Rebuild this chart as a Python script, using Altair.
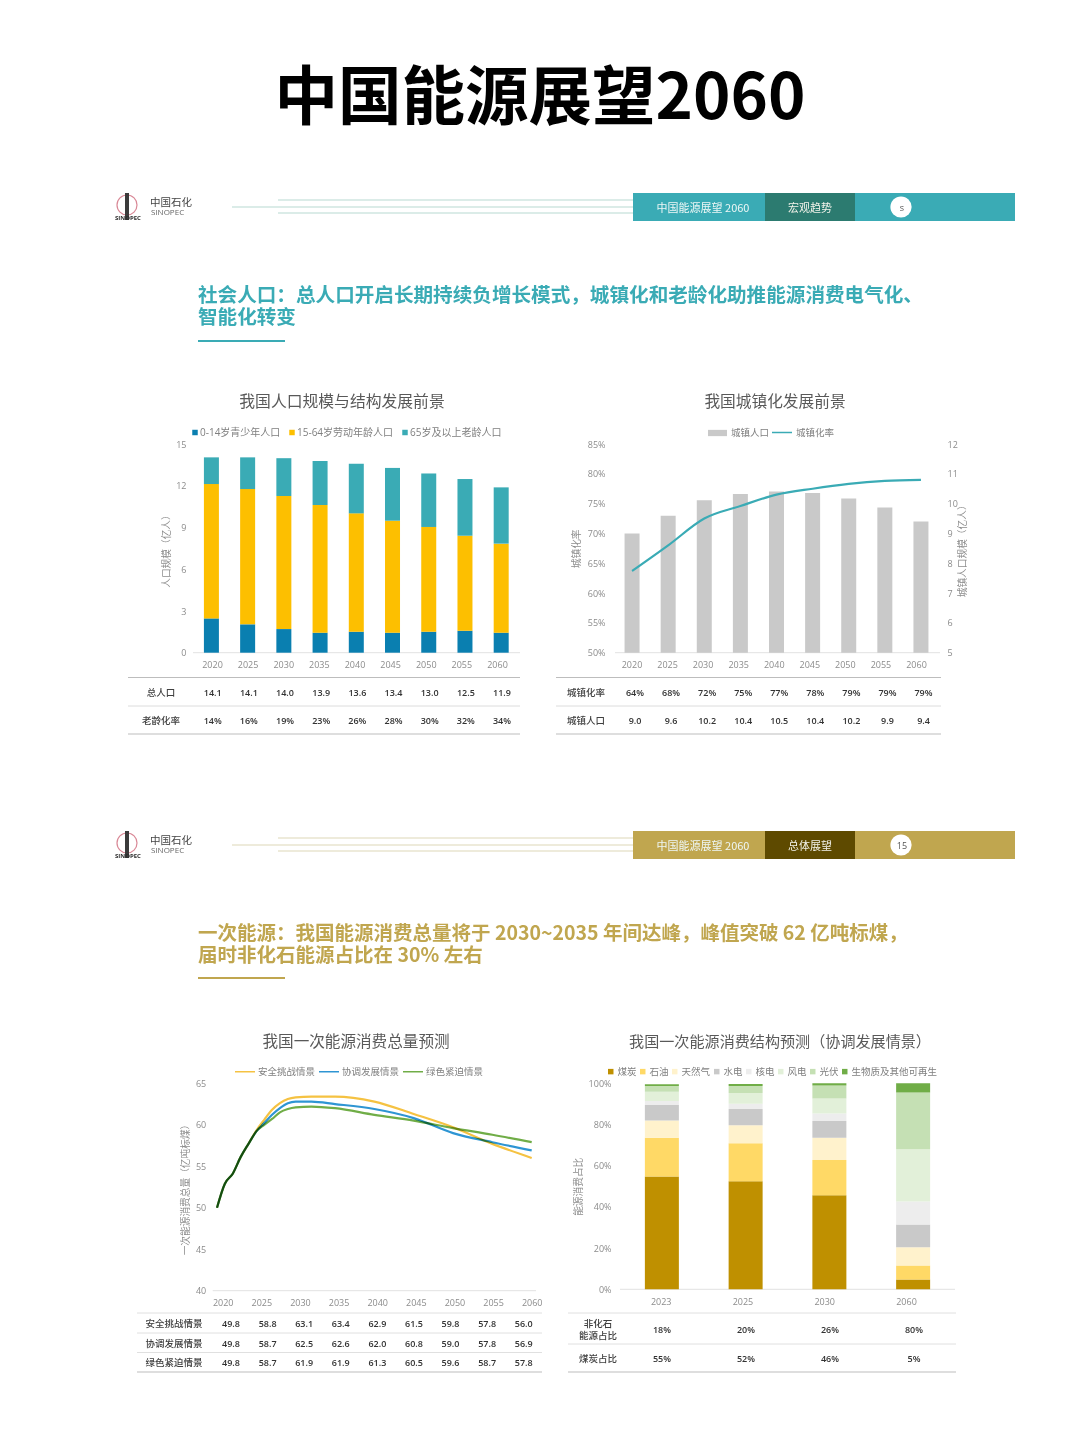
import altair as alt
import pandas as pd

# ---------- data ----------
YEARS = ["2020", "2025", "2030", "2035", "2040", "2045", "2050", "2055", "2060"]
POP_YOUNG = [2.47, 2.04, 1.70, 1.44, 1.51, 1.44, 1.51, 1.58, 1.44]
POP_WORK = [9.67, 9.74, 9.58, 9.19, 8.52, 8.06, 7.54, 6.84, 6.41]
POP_OLD = [1.92, 2.28, 2.72, 3.17, 3.57, 3.80, 3.85, 4.08, 4.05]
POP_NAMES = ["0-14岁青少年人口", "15-64岁劳动年龄人口", "65岁及以上老龄人口"]
POP_TOTAL = ["14.1", "14.1", "14.0", "13.9", "13.6", "13.4", "13.0", "12.5", "11.9"]
POP_AGING = ["14%", "16%", "19%", "23%", "26%", "28%", "30%", "32%", "34%"]

URB_POP = [9.0, 9.59, 10.11, 10.32, 10.41, 10.36, 10.17, 9.87, 9.4]
URB_BASE = [5, 5, 5, 5, 5, 5, 5, 5, 5]
URB_RATE = [63.7, 68.0, 72.5, 74.6, 76.5, 77.5, 78.3, 78.8, 79.0]
URB_RATE_T = ["64%", "68%", "72%", "75%", "77%", "78%", "79%", "79%", "79%"]
URB_POP_T = ["9.0", "9.6", "10.2", "10.4", "10.5", "10.4", "10.2", "9.9", "9.4"]

EN_YEARS = [2020, 2021, 2022, 2023, 2024, 2025, 2026, 2027, 2028, 2029, 2030, 2032, 2035, 2040, 2045, 2050, 2055, 2060]
EN_SAFE = [50.0, 52.9, 54.1, 56.1, 57.7, 59.3, 60.6, 61.8, 62.6, 63.1, 63.3, 63.4, 63.4, 62.8, 61.3, 59.7, 57.7, 56.0]
EN_COORD = [50.0, 52.9, 54.1, 56.1, 57.7, 59.2, 60.2, 61.2, 62.0, 62.6, 62.8, 62.8, 62.5, 61.9, 60.8, 59.0, 57.9, 56.9]
EN_GREEN = [50.0, 52.9, 54.1, 56.1, 57.7, 59.2, 60.0, 60.7, 61.5, 61.9, 62.1, 62.2, 62.0, 61.2, 60.5, 59.6, 58.8, 57.9]
EN_NAMES = ["安全挑战情景", "协调发展情景", "绿色紧迫情景"]
T_SAFE = ["49.8", "58.8", "63.1", "63.4", "62.9", "61.5", "59.8", "57.8", "56.0"]
T_COORD = ["49.8", "58.7", "62.5", "62.6", "62.0", "60.8", "59.0", "57.8", "56.9"]
T_GREEN = ["49.8", "58.7", "61.9", "61.9", "61.3", "60.5", "59.6", "58.7", "57.8"]

MIX_YEARS = ["2023", "2025", "2030", "2060"]
MIX_NAMES = ["煤炭", "石油", "天然气", "水电", "核电", "风电", "光伏", "生物质及其他可再生"]
MIX_COAL = [54.7, 52.4, 45.6, 4.7]
MIX_OIL = [18.9, 18.5, 17.2, 6.8]
MIX_GAS = [8.3, 8.7, 10.8, 8.9]
MIX_HYDRO = [7.6, 7.9, 8.1, 11.0]
MIX_NUC = [1.9, 2.6, 3.6, 11.2]
MIX_WIND = [4.5, 5.2, 7.3, 25.4]
MIX_SOLAR = [2.8, 3.4, 6.3, 27.5]
MIX_BIO = [0.8, 0.9, 1.1, 4.5]
MIX_NONFOSSIL = ["18%", "20%", "26%", "80%"]
MIX_COALSHARE = ["55%", "52%", "46%", "5%"]

TEAL = "#3aabb5"
GOLD = "#c0a64f"
GREY = "#8c8c8c"
FONT = "Open Sans, Noto Sans CJK SC"
CJK = "Noto Sans CJK SC"
ONE = alt.Data(values=[{"a": 0}])
PW, PH = 1064, 1424


def px(v):
    return v - 8


# ---------- helpers (all positions are given in page pixels) ----------
def T(text, x, y, size=10, color="#444444", weight="normal", align="center", font=CJK):
    content = text
    if "\n" in text:
        content = text.split("\n")
        y = y - (len(content) - 1) * (size + 2) / 2
    return alt.Chart(ONE).mark_text(text=content, fontSize=size, color=color, fontWeight=weight, align=align,
                                    baseline="middle", font=font, lineHeight=size + 2).encode(
        x=alt.value(px(x)), y=alt.value(px(y)))


def R(x0, y0, x1, y1, color):
    return alt.Chart(ONE).mark_rect(color=color).encode(
        x=alt.value(px(x0)), x2=alt.value(px(x1)), y=alt.value(px(y0)), y2=alt.value(px(y1)))


def H(x0, x1, y, color="#c8c8c8", w=1.0):
    return alt.Chart(ONE).mark_rule(color=color, strokeWidth=w).encode(
        x=alt.value(px(x0)), x2=alt.value(px(x1)), y=alt.value(px(y)))


def x_axis_layer(labels, x0, x1, ybase, pad=8):
    df = pd.DataFrame({"lab": labels})
    return alt.Chart(df).mark_rule(opacity=0).encode(
        x=alt.X("lab:N", sort=None,
                scale=alt.Scale(type="point", domain=labels, range=[px(x0), px(x1)], padding=0),
                axis=alt.Axis(title=None, orient="bottom", offset=-(PH - px(ybase)), domain=False, ticks=False,
                              grid=False, labelAngle=0, labelPadding=pad, labelColor=GREY, labelFontSize=9,
                              labelFont=FONT, labelOverlap=False, labelBound=False, labelFlush=False)))


def band_x(field, domain, x0, x1):
    return alt.X(field, sort=None, axis=None,
                 scale=alt.Scale(type="band", domain=domain, range=[px(x0), px(x1)], paddingInner=0, paddingOuter=0))


def table_layers(rownames, rows, cols, x0, x1, y0, y1, label_x, rules):
    recs = []
    for name, vals in zip(rownames, rows):
        for c, v in zip(cols, vals):
            recs.append({"row": name, "col": c, "v": v})
    text = alt.Chart(pd.DataFrame(recs)).mark_text(fontSize=9, color="#333333", fontWeight=600, font=FONT,
                                                   baseline="middle").encode(
        x=alt.X("col:N", sort=None, axis=None,
                scale=alt.Scale(type="point", domain=cols, range=[px(x0), px(x1)], padding=0)),
        y=alt.Y("row:N", sort=None, axis=None,
                scale=alt.Scale(type="point", domain=rownames, range=[px(y0), px(y1)], padding=0)),
        text="v:N")
    ys = [y0 + (y1 - y0) * i / max(len(rownames) - 1, 1) for i in range(len(rownames))]
    labels = [T(n, label_x, yy, 9.5, "#404040", 500, font=FONT) for n, yy in zip(rownames, ys)]
    return [text] + labels + rules


def legend(x, y, pad=6, sym="square", size=30, font=9.5, off=3, **kw):
    return alt.Legend(orient="none", legendX=px(x), legendY=px(y), direction="horizontal", title=None, symbolType=sym,
                      symbolSize=size, labelFontSize=font, labelColor="#7f7f7f", labelFont=FONT,
                      columnPadding=pad, labelOffset=off, rowPadding=0, padding=0, **kw)


def y_axis(title, vals, xpos, pad, tpad, pct=False, orient="left"):
    off = -px(xpos) if orient == "left" else -(PW - px(xpos))
    args = dict(title=title, orient=orient, offset=off, values=vals, domain=False, ticks=False, grid=False,
                labelColor=GREY, labelFontSize=9, labelFont=FONT, labelPadding=pad,
                titleColor=GREY, titleFontSize=9.7, titleFont=FONT, titleFontWeight="normal",
                titlePadding=tpad, titleAngle=270, labelOverlap=False, labelBound=False, labelFlush=False)
    if pct:
        args["labelExpr"] = "datum.value + '%'"
    return alt.Axis(**args)


def yscale(lo, hi, ybottom, ytop):
    return alt.Scale(domain=[lo, hi], range=[px(ybottom), px(ytop)], nice=False, zero=False)


# ---------- decoration ----------
def band(y0, y1, color, dark, linecol, sec, num):
    yc = (y0 + y1) / 2
    return [
        H(232, 633, yc, linecol, 1.5),
        H(278, 633, y0 + 7, linecol, 1.5),
        H(278, 633, y1 - 8, linecol, 1.5),
        R(633, y0, 1015, y1, color),
        R(765, y0, 855, y1, dark),
        T("中国能源展望 2060", 703, yc + 1.5, 11, "#eef7f6"),
        T(sec, 810, yc + 1.5, 11, "#f3f3ea"),
        alt.Chart(ONE).mark_circle(color="white", opacity=1, size=450).encode(
            x=alt.value(px(901)), y=alt.value(px(yc))),
        T(num, 902, yc + 0.5, 9, "#555555", 500, font=FONT),
        alt.Chart(ONE).mark_point(shape="circle", size=400, color="#c9566a", filled=False, strokeWidth=1.2).encode(
            x=alt.value(px(127)), y=alt.value(px(yc - 2))),
        R(125, y0, 129, y1 - 1, "#3b3b3b"),
        T("SINOPEC", 128, y1 - 3, 6, "#2b2b2b", "bold", font=FONT),
        T("中国石化", 150, y0 + 9.5, 10.5, "#444444", align="left"),
        T("SINOPEC", 151, y0 + 20, 8, "#666666", align="left", font=FONT),
    ]


decor = [T("中国能源展望2060", 540, 100, 63.5, "#000000", "bold")]
decor += band(193, 221, TEAL, "#2c7b70", "#cfe6e1", "宏观趋势", "s")
decor += [
    T("社会人口：总人口开启长期持续负增长模式，城镇化和老龄化助推能源消费电气化、", 198, 295.5, 19.6, TEAL, "bold", "left"),
    T("智能化转变", 198, 317.5, 19.6, TEAL, "bold", "left"),
    H(198, 285, 341, TEAL, 2),
    T("我国人口规模与结构发展前景", 342, 402, 15.8, "#595959"),
    T("我国城镇化发展前景", 775, 402, 15.7, "#595959"),
]
decor += band(831, 859, GOLD, "#5e4a00", "#e9e5cf", "总体展望", "15")
decor += [
    T("一次能源：我国能源消费总量将于 2030~2035 年间达峰，峰值突破 62 亿吨标煤，", 198, 933.5, 19.5, GOLD, "bold", "left"),
    T("届时非化石能源占比在 30% 左右", 198, 955.5, 19.5, GOLD, "bold", "left"),
    H(198, 285, 978, GOLD, 2),
    T("我国一次能源消费总量预测", 356, 1042, 15.6, "#595959"),
    T("我国一次能源消费结构预测（协调发展情景）", 780, 1042, 15.1, "#595959"),
]

# ---------- chart 1 : population ----------
pop = pd.DataFrame(
    [{"year": y, "series": POP_NAMES[i], "order": i, "v": s[j]}
     for i, s in enumerate([POP_YOUNG, POP_WORK, POP_OLD]) for j, y in enumerate(YEARS)])
bars1 = alt.Chart(pop).mark_bar(size=15).encode(
    x=band_x("year:N", YEARS, 193.3, 519.3),
    y=alt.Y("sum(v):Q", stack="zero", scale=yscale(0, 15, 652.7, 444.3),
            axis=y_axis("人口规模（亿人）", [0, 3, 6, 9, 12, 15], 193, 7, 4)),
    order=alt.Order("order:Q"),
    color=alt.Color("series:N", sort=None, scale=alt.Scale(domain=POP_NAMES, range=["#0a7fb0", "#fdbf00", TEAL]),
                    legend=legend(190, 427.5, pad=6, font=10, off=0)))
layers1 = [H(193, 520, 652.7, "#e2e2e2"), x_axis_layer(YEARS, 212, 497, 652.7), bars1] + table_layers(
    ["总人口", "老龄化率"], [POP_TOTAL, POP_AGING], YEARS, 212.7, 502, 693, 721, 161,
    [H(128, 520, 677.5, "#bdbdbd"), H(128, 520, 706, "#dcdcdc"), H(128, 520, 734, "#bdbdbd")])

# ---------- chart 2 : urbanisation ----------
urb = pd.DataFrame({"year": YEARS, "pop": URB_POP, "base": URB_BASE, "rate": URB_RATE,
                    "a": ["城镇人口"] * 9, "b": ["城镇化率"] * 9})
xb2 = band_x("year:N", YEARS, 614, 939)
bars2 = alt.Chart(urb).mark_bar(size=15).encode(
    x=xb2,
    y=alt.Y("pop:Q", scale=yscale(5, 12, 652.7, 444),
            axis=y_axis("城镇人口规模（亿人）", [5, 6, 7, 8, 9, 10, 11, 12], 940, 7, 10, orient="right")),
    y2=alt.Y2("base:Q"),
    color=alt.Color("a:N", scale=alt.Scale(domain=["城镇人口"], range=["#c9c9c9"]),
                    legend=legend(707, 422.5, sym="M-1,-0.33H1V0.33H-1Z", size=361)))
line2 = alt.Chart(urb).mark_line(strokeWidth=2.2, interpolate="monotone").encode(
    x=xb2,
    y=alt.Y("rate:Q", scale=yscale(50, 85, 652.7, 444),
            axis=y_axis("城镇化率", [50, 55, 60, 65, 70, 75, 80, 85], 615, 10, 6, pct=True)),
    color=alt.Color("b:N", scale=alt.Scale(domain=["城镇化率"], range=[TEAL]),
                    legend=legend(771, 421.5, sym="stroke", size=400)))
layers2 = [H(615, 940, 652.7, "#e2e2e2"), x_axis_layer(YEARS, 631.5, 916, 652.7), bars2, line2] + table_layers(
    ["城镇化率", "城镇人口"], [URB_RATE_T, URB_POP_T], YEARS, 635, 923.5, 693, 721, 586,
    [H(556, 941, 677.5, "#bdbdbd"), H(556, 941, 706, "#dcdcdc"), H(556, 941, 734, "#bdbdbd")])

# ---------- chart 3 : energy total ----------
en = pd.DataFrame(
    [{"year": y, "series": EN_NAMES[i], "order": i, "v": s[j]}
     for i, s in enumerate([EN_SAFE, EN_COORD, EN_GREEN]) for j, y in enumerate(EN_YEARS)])
lines3 = alt.Chart(en).mark_line(strokeWidth=2.2, interpolate="monotone", blend="multiply").encode(
    x=alt.X("year:Q", axis=None,
            scale=alt.Scale(domain=[2020, 2060], range=[px(217), px(531.7)], nice=False, zero=False)),
    y=alt.Y("v:Q", scale=yscale(40, 65, 1290.7, 1083.3),
            axis=y_axis("一次能源消费总量（亿吨标煤）", [40, 45, 50, 55, 60, 65], 212.7, 7, 5)),
    order=alt.Order("order:Q"),
    detail="series:N",
    color=alt.Color("series:N", sort=None, scale=alt.Scale(domain=EN_NAMES, range=["#f5c242", "#2e95d3", "#70ad47"]),
                    legend=legend(234, 1060.5, pad=0, sym="stroke", size=400, off=2)))
layers3 = [H(212.7, 536, 1290.7, "#e2e2e2"), x_axis_layer(YEARS, 222.7, 531.7, 1290.7), lines3] + table_layers(
    EN_NAMES, [T_SAFE, T_COORD, T_GREEN], YEARS, 231, 523.7, 1324, 1363, 174,
    [H(137, 542, 1313, "#e0e0e0"), H(137, 542, 1333, "#e0e0e0"), H(137, 542, 1352.5, "#e0e0e0"), H(137, 542, 1372, "#bdbdbd")])

# ---------- chart 4 : energy mix ----------
mix_cols = [MIX_COAL, MIX_OIL, MIX_GAS, MIX_HYDRO, MIX_NUC, MIX_WIND, MIX_SOLAR, MIX_BIO]
mix = pd.DataFrame(
    [{"year": y, "series": MIX_NAMES[i], "order": i, "v": s[j]}
     for i, s in enumerate(mix_cols) for j, y in enumerate(MIX_YEARS)])
bars4 = alt.Chart(mix).mark_bar(size=34).encode(
    x=band_x("year:N", MIX_YEARS, 620, 955),
    y=alt.Y("sum(v):Q", stack="zero", scale=yscale(0, 100, 1289.3, 1083.3),
            axis=y_axis("能源消费占比", [0, 20, 40, 60, 80, 100], 620, 9, 5, pct=True)),
    order=alt.Order("order:Q"),
    color=alt.Color("series:N", sort=None,
                    scale=alt.Scale(domain=MIX_NAMES,
                                    range=["#bf9000", "#ffd966", "#fff2cc", "#c9c9c9", "#ededed", "#e2f0d9", "#c5e0b4", "#70ad47"]),
                    legend=legend(606, 1066.5, pad=1, columns=8, off=2)))
layers4 = [H(620, 955, 1289.3, "#e2e2e2"), x_axis_layer(MIX_YEARS, 660.7, 906, 1289.3), bars4] + table_layers(
    ["非化石\n能源占比", "煤炭占比"], [MIX_NONFOSSIL, MIX_COALSHARE], MIX_YEARS, 662, 914, 1330, 1359, 598,
    [H(568, 956, 1313, "#e0e0e0"), H(568, 956, 1344, "#e0e0e0"), H(568, 956, 1372, "#bdbdbd")])

# ---------- page ----------
chart = alt.layer(*(decor + layers1 + layers2 + layers3 + layers4)).resolve_scale(
    x="independent", y="independent", color="independent"
).properties(width=PW, height=PH, padding=0, background="white").configure_view(stroke=None)
chart.save("out.html", embed_options={"renderer": "svg", "actions": False})
